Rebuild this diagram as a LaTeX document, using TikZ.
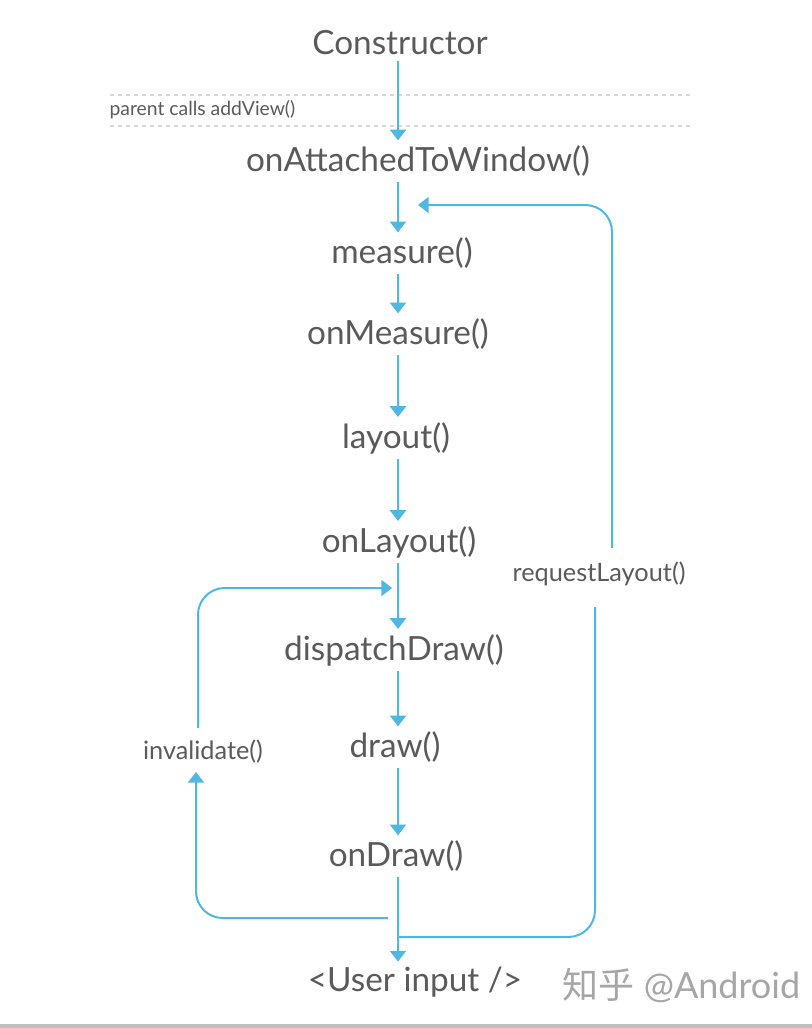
\documentclass[tikz,border=0pt]{standalone}
\usepackage{fontspec}
\setmainfont{Lato}
\newfontfamily\cjk{Noto Sans CJK SC}
\usetikzlibrary{arrows.meta}
\definecolor{flow}{RGB}{79,184,226}
\definecolor{txt}{RGB}{90,90,90}
\definecolor{dash}{RGB}{215,215,215}
\begin{document}
\begin{tikzpicture}[x=0.75pt,y=-0.75pt,
  step node/.style={text=txt,font=\fontsize{25}{30}\selectfont,inner sep=1pt,outer sep=3pt},
  side label/.style={text=txt,font=\fontsize{19}{22}\selectfont,inner sep=1pt},
  flow line/.style={draw=flow,line width=1.5pt},
  flow arrow/.style={flow line,-{Triangle[width=12pt,length=8pt]}},
  sep line/.style={draw=dash,line width=0.8pt,dashed}]
\useasboundingbox (0,0) rectangle (812,1028);
\fill[white] (0,0) rectangle (812,1028);
\draw[line width=3pt,draw=black!25] (0,1026) -- (812,1026);

\node[step node] (ctor) at (400,43) {Constructor};
\node[step node] (attach) at (418,161) {onAttachedToWindow()};
\node[step node] (measure) at (402,253) {measure()};
\node[step node] (onmeasure) at (398,334) {onMeasure()};
\node[step node] (layout) at (396,438) {layout()};
\node[step node] (onlayout) at (399,542) {onLayout()};
\node[step node] (dispatch) at (394,650) {dispatchDraw()};
\node[step node] (draw) at (395,747) {draw()};
\node[step node] (ondraw) at (396,856) {onDraw()};
\node[step node] (user) at (415,982) {<User input />};
\node[side label] (req) at (599,574) {requestLayout()};
\node[side label] (inv) at (203,752) {invalidate()};
\node[side label,font=\fontsize{14.5}{17}\selectfont,anchor=west] (parent) at (108,110) {parent calls addView()};
\node[text=black!35,font=\fontsize{27}{32}\selectfont,anchor=west] (mark) at (558,986) {{\cjk 知乎} @Android};

\coordinate (spine) at (398,0);
\coordinate (d1l) at (110,95); \coordinate (d1r) at (690,95);
\coordinate (d2l) at (110,126); \coordinate (d2r) at (690,126);
\draw[sep line] (d1l) -- (d1r);
\draw[sep line] (d2l) -- (d2r);

\draw[flow arrow] (ctor.south -| spine) -- (attach.north -| spine);
\draw[flow arrow] (attach.south -| spine) -- (measure.north -| spine);
\draw[flow arrow] (measure.south -| spine) -- (onmeasure.north -| spine);
\draw[flow arrow] (onmeasure.south -| spine) -- (layout.north -| spine);
\draw[flow arrow] (layout.south -| spine) -- (onlayout.north -| spine);
\draw[flow arrow] (onlayout.south -| spine) -- (dispatch.north -| spine);
\draw[flow arrow] (dispatch.south -| spine) -- (draw.north -| spine);
\draw[flow arrow] (draw.south -| spine) -- (ondraw.north -| spine);
\draw[flow arrow] (ondraw.south -| spine) -- (user.north -| spine);

% requestLayout loop
\coordinate (r0) at (398,937); \coordinate (r1) at (595,937);
\coordinate (r2) at (595,607); \coordinate (r3) at (612,548);
\coordinate (r4) at (612,205); \coordinate (r5) at (418,205);
\draw[flow line,rounded corners=20] (r0) -- (r1) -- (r2);
\draw[flow arrow,rounded corners=20] (r3) -- (r4) -- (r5);

% invalidate loop
\coordinate (i0) at (388,918); \coordinate (i1) at (196,918);
\coordinate (i2) at (196,772); \coordinate (i3) at (198,728);
\coordinate (i4) at (198,588); \coordinate (i5) at (392,588);
\draw[flow arrow,rounded corners=20] (i0) -- (i1) -- (i2);
\draw[flow arrow,rounded corners=20] (i3) -- (i4) -- (i5);
\end{tikzpicture}
\end{document}
